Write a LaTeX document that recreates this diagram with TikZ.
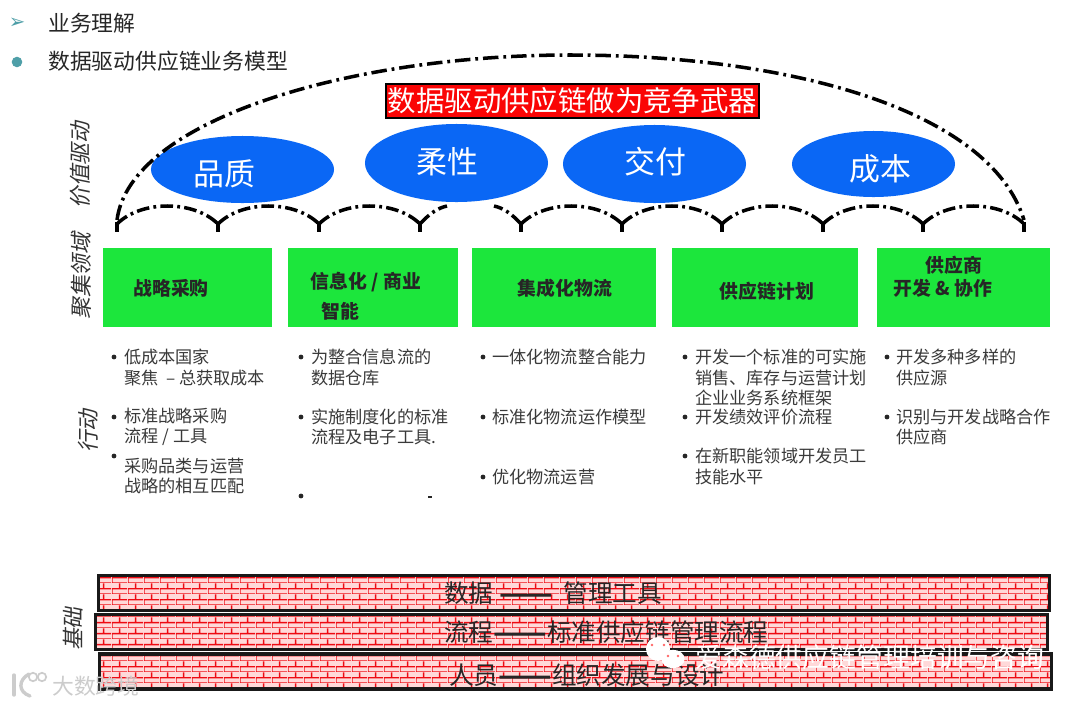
\documentclass[tikz,border=0pt]{standalone}
\usepackage{fontspec}
\setmainfont{Noto Sans CJK SC}
\newfontfamily\cjkoblicua[FakeSlant=0.2]{Noto Sans CJK SC}
\newfontfamily\simbolo{DejaVu Sans}
\usetikzlibrary{patterns,shapes.geometric}
\definecolor{verde}{HTML}{1CE63C}
\definecolor{azul}{HTML}{0A67F5}
\definecolor{rojo}{HTML}{FA0505}
\definecolor{teal}{HTML}{4F9FA8}
\definecolor{texto}{HTML}{3A3A3A}
\definecolor{ladrillo}{HTML}{EE0A12}
\newcommand{\raya}{\smash{\raisebox{-0.3em}{\scalebox{1.3}[2]{——}}}}
\pgfdeclarepatternformonly{ladrillos}{\pgfpointorigin}{\pgfqpoint{11.4pt}{8pt}}{\pgfqpoint{11.4pt}{8pt}}{
  \pgfsetlinewidth{1.1pt}
  \pgfpathmoveto{\pgfqpoint{0pt}{0pt}}\pgfpathlineto{\pgfqpoint{11.4pt}{0pt}}
  \pgfpathmoveto{\pgfqpoint{0pt}{4pt}}\pgfpathlineto{\pgfqpoint{11.4pt}{4pt}}
  \pgfpathmoveto{\pgfqpoint{0pt}{0pt}}\pgfpathlineto{\pgfqpoint{0pt}{4pt}}
  \pgfpathmoveto{\pgfqpoint{5.7pt}{4pt}}\pgfpathlineto{\pgfqpoint{5.7pt}{8pt}}
  \pgfusepath{stroke}}

\begin{document}
\begin{tikzpicture}[x=0.025cm,y=-0.025cm,
  foco/.style={fill=verde, inner sep=0pt, outer sep=0pt, minimum height=1.975cm},
  focotxt/.style={font=\fontsize{13.4}{15}\selectfont\bfseries, inner sep=0pt, text=black!85},
  valor/.style={ellipse, fill=azul, inner sep=0pt, outer sep=0pt},
  valortxt/.style={font=\fontsize{22}{26}\selectfont, text=white, inner sep=0pt},
  lado/.style={font=\fontsize{15.5}{18}\selectfont\cjkoblicua, rotate=90, inner sep=0pt, text=black!80},
  accion/.style={font=\fontsize{12.2}{14.6}\selectfont, text=texto, anchor=west, align=left, inner sep=0pt},
  vineta/.style={circle, fill=black!85, inner sep=0pt, minimum size=3.4pt},
  barra/.style={draw=black!90, line width=2.2pt, preaction={fill=red!15}, pattern=ladrillos, pattern color=ladrillo, inner sep=0pt, minimum height=0.875cm, minimum width=23.775cm},
  barratxt/.style={font=\fontsize{17.5}{20}\selectfont, text=black!85, inner sep=0pt},
  arco/.style={line width=2.5pt, dash pattern=on 11pt off 3.5pt on 2pt off 3.5pt, black},
  arquito/.style={line width=2.5pt, dash pattern=on 9pt off 3pt on 2pt off 3pt, black},
  ojo/.style={circle, fill=red!60, inner sep=0pt, minimum size=2pt}]
\useasboundingbox (0,0) rectangle (1080,705);
\fill[white] (0,0) rectangle (1080,705);
% encabezado
\node[font=\fontsize{14}{16}\selectfont\simbolo, text=teal, inner sep=0pt] (b1) at (17,23) {➢};
\node[circle, fill=teal, inner sep=0pt, minimum size=7.5pt] (b2) at (17,62) {};
\node[font=\fontsize{15.5}{18}\selectfont, text=black!85, anchor=west, inner sep=0pt] (h1) at (48,23) {业务理解};
\node[font=\fontsize{15.5}{18}\selectfont, text=black!85, anchor=west, inner sep=0pt] (h2) at (48,61) {数据驱动供应链业务模型};
% valor
\node[valor, minimum width=4.575cm, minimum height=1.675cm] (e1) at (242.5,169.5) {};
\node[valor, minimum width=4.575cm, minimum height=1.95cm] (e2) at (456.5,163) {};
\node[valor, minimum width=4.575cm, minimum height=1.95cm] (e3) at (654.5,164) {};
\node[valor, minimum width=4.075cm, minimum height=1.65cm] (e4) at (873.5,164) {};
\node[valortxt] (v1) at (224,174) {品质};
\node[valortxt] (v2) at (447,162) {柔性};
\node[valortxt] (v3) at (655,162) {交付};
\node[valortxt] (v4) at (880,169) {成本};
\node[draw=black, line width=0.8pt, fill=rojo, text=white, font=\fontsize{20.2}{24}\selectfont, inner sep=0pt, minimum width=9.325cm, minimum height=0.85cm] (meta) at (572.5,101) {数据驱动供应链做为竞争武器};
% arcos
\draw[arco] (117,220) .. controls (130,120) and (350,55) .. (570,55) .. controls (790,55) and (990,110) .. (1024,220);
\foreach \a/\b in {117/218,218/319,319/420,521/622,622/722,722/823,823/923,923/1024}
  \draw[arquito] (\a,224) .. controls (\a+24,200) and (\b-24,200) .. (\b,224);
\draw[arquito] (420,224) .. controls (430,213) and (438,208) .. (447,206);
\draw[arquito] (521,224) .. controls (511,213) and (503,208) .. (494,206);
\foreach \a in {117,218,319,420,521,622,722,823,923,1024}
  \draw[black, line width=2.6pt] (\a,222) -- (\a,232);
% focos
\node[foco, minimum width=4.225cm] (f1) at (187.5,287.5) {};
\node[foco, minimum width=4.25cm] (f2) at (373,287.5) {};
\node[foco, minimum width=4.6cm] (f3) at (564,287.5) {};
\node[foco, minimum width=4.65cm] (f4) at (765,287.5) {};
\node[foco, minimum width=4.325cm] (f5) at (963.5,287.5) {};
\node[focotxt] (g1) at (171,288) {战略采购};
\node[focotxt] (g2) at (366,282) {信息化 / 商业};
\node[focotxt] (g3) at (340,311) {智能};
\node[focotxt] (g4) at (565,288) {集成化物流};
\node[focotxt] (g5) at (767,291) {供应链计划};
\node[focotxt] (g6) at (954,265) {供应商};
\node[focotxt] (g7) at (943,288) {开发 \& 协作};
% lados
\node[lado] (l1) at (80,165) {价值驱动};
\node[lado] (l2) at (81,276) {聚集领域};
\node[lado] (l3) at (88,431) {行动};
\node[lado] (l4) at (73,629) {基础};
% acciones
\node[vineta] (p1) at (114,357) {};
\node[accion] (a1) at (124,367.5) {低成本国家\\聚焦\ \ –\ 总获取成本};
\node[vineta] (p2) at (114,417) {};
\node[accion] (a2) at (124,427) {标准战略采购\\流程 / 工具};
\node[vineta] (p3) at (114,456) {};
\node[accion] (a3) at (124,476) {采购品类与运营\\战略的相互匹配};
\node[vineta] (p4) at (301,357) {};
\node[accion] (a4) at (311,367.5) {为整合信息流的\\数据仓库};
\node[vineta] (p5) at (301,417) {};
\node[accion] (a5) at (311,427) {实施制度化的标准\\流程及电子工具.};
\node[vineta] (p6) at (301,496) {};
\node[fill=black!85, inner sep=0pt, minimum width=3.5pt, minimum height=1pt] (p7) at (430,497) {};
\node[vineta] (p8) at (483,357) {};
\node[accion] (a6) at (492,357) {一体化物流整合能力};
\node[vineta] (p9) at (483,417) {};
\node[accion] (a7) at (492,417) {标准化物流运作模型};
\node[vineta] (p10) at (483,477) {};
\node[accion] (a8) at (492,477) {优化物流运营};
\node[vineta] (p11) at (685,357) {};
\node[accion] (a9) at (695,377.5) {开发一个标准的可实施\\销售、库存与运营计划\\企业业务系统框架};
\node[vineta] (p12) at (685,417) {};
\node[accion] (a10) at (695,417) {开发绩效评价流程};
\node[vineta] (p13) at (685,456) {};
\node[accion] (a11) at (695,466.5) {在新职能领域开发员工\\技能水平};
\node[vineta] (p14) at (887,357) {};
\node[accion] (a12) at (896,367.5) {开发多种多样的\\供应源};
\node[vineta] (p15) at (887,417) {};
\node[accion] (a13) at (896,427) {识别与开发战略合作\\供应商};
% base
\node[barra] (r1) at (574,593) {};
\node[barra] (r2) at (571.5,632) {};
\node[barra] (r3) at (575.5,671.5) {};
\node[barratxt, anchor=west] (s1) at (444,593) {数据 \raya{} \ 管理工具};
\node[barratxt, anchor=west] (s2) at (444,632) {流程\raya{}标准供应链管理流程};
\node[barratxt, anchor=west] (s3) at (449,675) {人员\raya{}组织发展与设计};
% marcas de agua
\node[ellipse, fill=white, inner sep=0pt, minimum width=0.6cm, minimum height=0.6cm] (w1) at (658,649) {};
\node[ellipse, fill=white, inner sep=0pt, minimum width=0.58cm, minimum height=0.46cm] (w2) at (673,659) {};
\node[ojo] (o1) at (652,645) {};
\node[ojo] (o2) at (664,645) {};
\node[ojo] (o3) at (668,656) {};
\node[ojo] (o4) at (678,656) {};
\node[font=\fontsize{19.1}{22}\selectfont, text=white, anchor=west, inner sep=0pt] (w3) at (695,657) {爱森德供应链管理培训与咨询};
\node[font=\fontsize{15.5}{17}\selectfont, text=black!20, anchor=west, inner sep=0pt] (w4) at (52,686) {大数跨境};
\draw[black!20, line width=2.4pt, line cap=round] (14,675) -- (14,695);
\draw[black!20, line width=2.4pt, line cap=round] (29,674) .. controls (18,680) and (18,692) .. (30,696);
\node[circle, draw=black!20, line width=1.2pt, inner sep=0pt, minimum size=6pt] (w5) at (33,677) {};
\node[circle, draw=black!20, line width=1.2pt, inner sep=0pt, minimum size=6pt] (w6) at (42,677) {};
\end{tikzpicture}
\end{document}
